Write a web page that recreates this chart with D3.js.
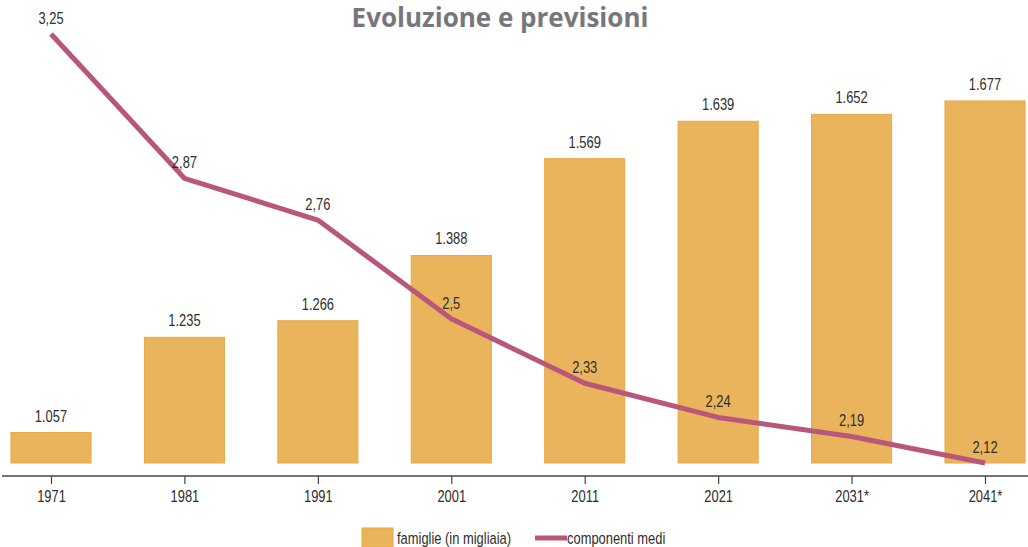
<!DOCTYPE html>
<html>
<head>
<meta charset="utf-8">
<script src="https://cdn.jsdelivr.net/npm/d3@7"></script>
<style>
  body { margin: 0; background: #fff; }
  svg text { font-family: "Liberation Sans", sans-serif; fill: #2e2e2e; }
</style>
</head>
<body>
<svg id="chart" width="1028" height="547"></svg>
<script>
var years = ['1971', '1981', '1991', '2001', '2011', '2021', '2031*', '2041*'];
var famiglie = [1057, 1235, 1266, 1388, 1569, 1639, 1652, 1677];
var famiglieLabels = ['1.057', '1.235', '1.266', '1.388', '1.569', '1.639', '1.652', '1.677'];
var componenti = [3.25, 2.87, 2.76, 2.5, 2.33, 2.24, 2.19, 2.12];
var componentiLabels = ['3,25', '2,87', '2,76', '2,5', '2,33', '2,24', '2,19', '2,12'];
var legendLabels = ['famiglie (in migliaia)', 'componenti medi'];

var barColor = '#e9b45b', barEdge = '#e6a945', lineColor = '#b9567c';
var squeeze = 0.76; // condensed look of the labels

var svg = d3.select('#chart');
var baseY = 463, axisY = 476;

var x = d3.scalePoint().domain(years).range([51, 985]);
var barW = x.step() * 0.6;
var yBar = d3.scaleLinear().domain([1000, 1800]).range([baseY, baseY - 800 * 0.5348]);
var yLine = d3.scaleLinear().domain([2.12, 3.25]).range([baseY, 34]);

function place(px, py) {
  return 'translate(' + px + ',' + py + ') scale(' + squeeze + ',1)';
}

// title
svg.append('text').attr('x', 500).attr('y', 27).attr('text-anchor', 'middle')
  .style('font-family', '"Open Sans", sans-serif').style('font-weight', 'bold')
  .style('font-size', '26px').style('fill', '#77777b')
  .text('Evoluzione e previsioni');

// bars
svg.selectAll('rect.bar').data(famiglie).enter().append('rect')
  .attr('class', 'bar')
  .attr('x', function(d, i) { return x(years[i]) - barW / 2; })
  .attr('y', function(d) { return yBar(d); })
  .attr('width', barW)
  .attr('height', function(d) { return baseY - yBar(d); })
  .style('fill', barColor).style('stroke', barEdge).style('stroke-width', 1);

svg.selectAll('text.barlab').data(famiglie).enter().append('text')
  .attr('class', 'barlab')
  .attr('transform', function(d, i) { return place(x(years[i]), yBar(d) - 11); })
  .attr('text-anchor', 'middle').style('font-size', '17px')
  .text(function(d, i) { return famiglieLabels[i]; });

// axis
var axis = svg.append('g').attr('transform', 'translate(0,' + axisY + ')')
  .call(d3.axisBottom(x).tickSize(8).tickPadding(6));
axis.select('.domain').remove();
axis.selectAll('.tick line').style('stroke', '#444').style('stroke-width', 1.2);
axis.selectAll('.tick text').attr('transform', 'scale(' + squeeze + ',1)')
  .style('font-size', '17px').style('font-family', '"Liberation Sans", sans-serif').style('fill', '#2e2e2e');
svg.append('line').attr('x1', 2).attr('x2', 1028).attr('y1', axisY).attr('y2', axisY)
  .style('stroke', '#444').style('stroke-width', 1.5);

// line
var line = d3.line().x(function(d, i) { return x(years[i]); }).y(function(d) { return yLine(d); });
svg.append('path').datum(componenti).attr('d', line)
  .style('fill', 'none').style('stroke', lineColor).style('stroke-width', 5).style('stroke-linejoin', 'round');

svg.selectAll('text.linelab').data(componenti).enter().append('text')
  .attr('class', 'linelab')
  .attr('transform', function(d, i) { return place(x(years[i]), yLine(d) - 10); })
  .attr('text-anchor', 'middle').style('font-size', '17px')
  .text(function(d, i) { return componentiLabels[i]; });

// legend
var leg = svg.append('g');
leg.append('rect').attr('x', 362).attr('y', 528).attr('width', 31).attr('height', 19)
  .style('fill', barColor).style('stroke', barEdge);
leg.append('text').attr('transform', place(397, 544)).style('font-size', '17px').text(legendLabels[0]);
leg.append('line').attr('x1', 535).attr('x2', 567).attr('y1', 538).attr('y2', 538)
  .style('stroke', lineColor).style('stroke-width', 5);
leg.append('text').attr('transform', place(567, 544)).style('font-size', '17px').text(legendLabels[1]);
</script>
</body>
</html>
